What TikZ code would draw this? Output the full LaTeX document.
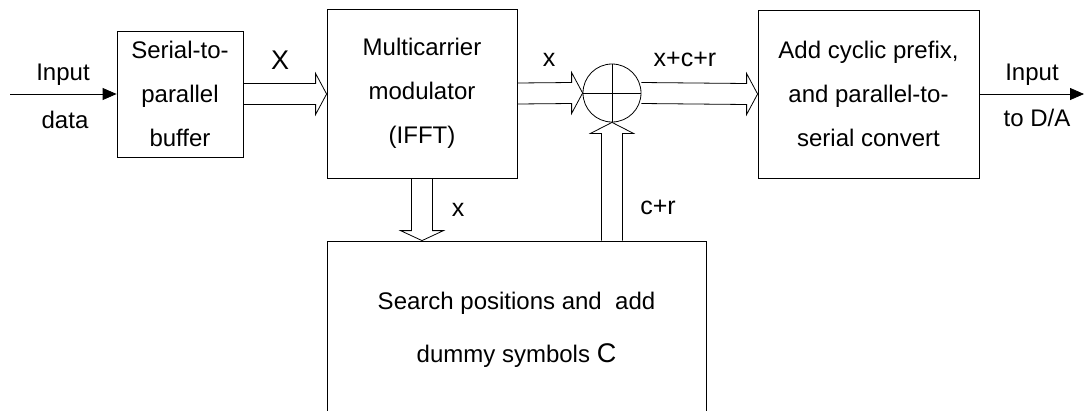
\documentclass[tikz,border=0pt]{standalone}
\usepackage{fontspec}
\setmainfont{Liberation Sans}
\usetikzlibrary{arrows.meta,calc}
\newcommand\harrow[2]{\draw[hollow] ($#1+(0,-10.5)$) -- ($#2+(-11,-10.5)$) -- ($#2+(-11,-20.5)$) -- #2 -- ($#2+(-11,20.5)$) -- ($#2+(-11,10.5)$) -- ($#1+(0,10.5)$);}
\newcommand\varrow[3]{\draw[hollow] ($#1+(-10.5,0)$) -- ($#2+(-10.5,#3)$) -- ($#2+(-21.5,#3)$) -- #2 -- ($#2+(21.5,#3)$) -- ($#2+(10.5,#3)$) -- ($#1+(10.5,0)$);}
\begin{document}
\begin{tikzpicture}[x=1pt,y=-1pt,line width=0.8pt,
  blk/.style={draw,align=center,inner sep=0,font=\fontsize{24}{44}\selectfont},
  txt/.style={inner sep=0,font=\fontsize{24}{24}\selectfont},
  lbl/.style={inner sep=0,font=\fontsize{25}{25}\selectfont},
  hollow/.style={line join=miter},
  sig/.style={-{Triangle[length=14pt,width=12pt]}}]
\useasboundingbox (0,0) rectangle (1086,410);
\clip (0,0) rectangle (1086,410);
\node[blk,minimum width=126,minimum height=126] (s2p) at (180,94) {Serial-to-\\parallel\\buffer};
\node[blk,minimum width=190,minimum height=169] (mod) at (422,93.5) {Multicarrier\\modulator\\(IFFT)};
\node[draw,circle,minimum size=58,inner sep=0] (sum) at (612,93) {};
\node[blk,minimum width=221,minimum height=168] (cp) at (868.5,94) {Add cyclic prefix,\\and parallel-to-\\serial convert};
\node[blk,minimum width=379,minimum height=178] (srch) at (516.5,330) {Search positions and \ add\\[9pt]dummy symbols {\fontsize{27}{27}\selectfont C}};
\draw (sum.north) -- (sum.south) (sum.west) -- (sum.east);
\coordinate (in) at (10,94);
\coordinate (out) at (1084,94);
\draw[sig] (in) -- (s2p.west);
\draw[sig] (cp.east) -- (out);
\node[txt] (in1) at (63,75) {Input};
\node[txt] (in2) at (65,120) {data};
\node[txt] (out1) at (1032,75) {Input};
\node[txt] (out2) at (1037,118) {to D/A};
\harrow{(s2p.east)}{(mod.west |- s2p.east)}
\harrow{(mod.east)}{(sum.west)}
\harrow{(sum.east)}{(cp.west)}
\varrow{(mod.south)}{(mod.south |- srch.north)}{-10}
\varrow{(srch.north -| sum.south)}{(sum.south)}{11}
\node[lbl,font=\fontsize{27}{27}\selectfont] (lX) at (280,60) {X};
\node[lbl] (lx1) at (549,60) {x};
\node[lbl] (lxcr) at (685,59) {x+c+r};
\node[lbl] (lx2) at (458,210) {x};
\node[lbl] (lcr) at (658,207) {c+r};
\end{tikzpicture}
\end{document}
